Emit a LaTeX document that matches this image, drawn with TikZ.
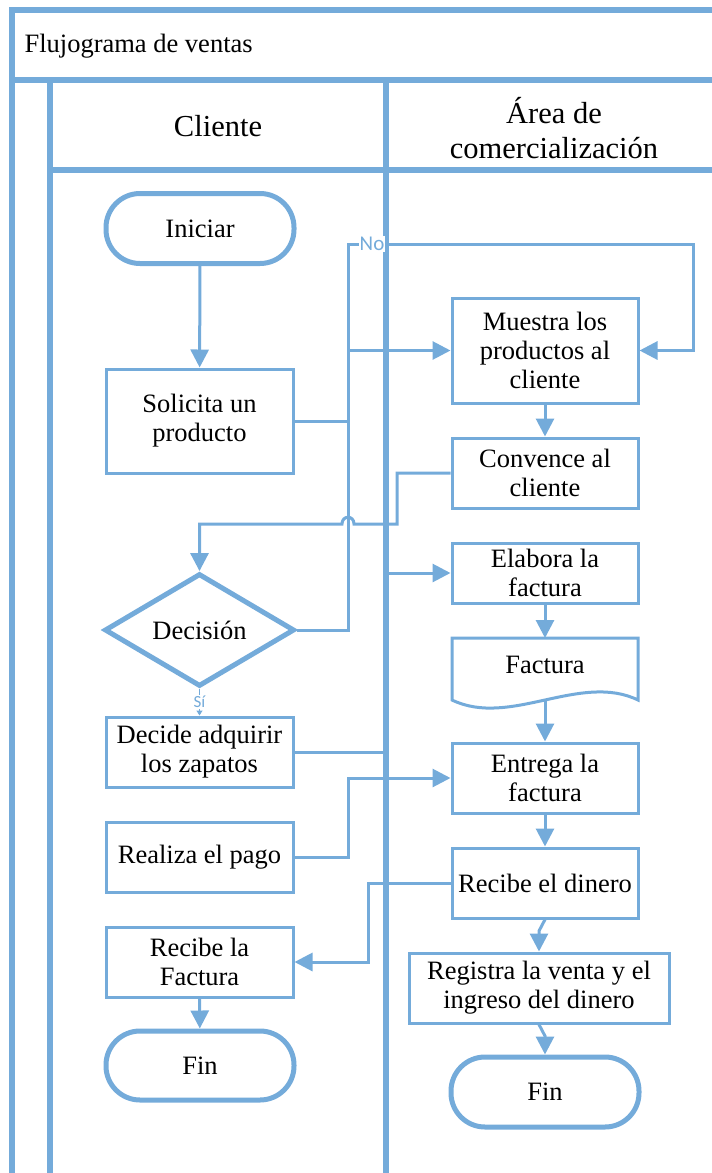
\documentclass[tikz,border=0pt]{standalone}
\usepackage{fontspec}
\setmainfont{Liberation Serif}
\newfontfamily\lblfont{Carlito}
\usetikzlibrary{arrows.meta,shapes.geometric}
\definecolor{lb}{RGB}{116,171,218}
\newcommand\nfnt{\fontsize{26.5}{29}\selectfont}
\begin{document}
\begin{tikzpicture}[x=1pt,y=-1pt,
  frame/.style={draw=lb, line width=6pt},
  proc/.style={draw=lb, line width=3pt, fill=white, minimum width=187pt,
    minimum height=70pt, inner sep=2pt, align=center, font=\nfnt},
  term/.style={proc, line width=5pt, rounded corners=34pt, minimum width=188pt},
  arr/.style={draw=lb, line width=3pt, -{Triangle[length=18pt,width=18pt]}},
  lbl/.style={fill=white, inner sep=1pt, text=lb, font=\lblfont\fontsize{21}{23}\selectfont}]
\useasboundingbox (0,0) rectangle (712,1173);

% swimlane frame
\draw[frame] (712,10) -- (12,10) -- (12,1173);
\draw[frame] (12,80) -- (712,80);
\draw[frame] (50,80) -- (50,1173);
\draw[frame] (386,80) -- (386,1173);
\draw[frame] (50,170) -- (712,170);

% titles
\node[anchor=west, font=\fontsize{26.5}{29}\selectfont] (title) at (21,46) {Flujograma de ventas};
\node[font=\fontsize{30.5}{35}\selectfont] (hcli) at (218,126) {Cliente};
\node[font=\fontsize{30.5}{35}\selectfont, align=center] (hcom) at (554,128) {Área de\\comercialización};

% Cliente lane
\node[term, minimum height=70pt] (ini) at (200,228.5) {Iniciar};
\node[proc, minimum height=104pt] (sol) at (199.5,421) {Solicita un\\producto};
\node[draw=lb, line width=5pt, fill=white, shape=diamond, minimum width=190pt,
      minimum height=104pt, inner sep=0pt, font=\nfnt] (dec) at (199.5,630) {Decisión};
\node[proc] (dz) at (199.5,752) {Decide adquirir\\los zapatos};
\node[proc] (pago) at (199.5,857) {Realiza el pago};
\node[proc] (rfac) at (199.5,962) {Recibe la\\Factura};
\node[term, minimum height=69pt] (fin1) at (200,1065.5) {Fin};

% Área de comercialización lane
\node[proc, minimum width=186pt, minimum height=105pt] (mue) at (545,350.5) {Muestra los\\productos al\\cliente};
\node[proc, minimum width=186pt] (conv) at (545,473) {Convence al\\cliente};
\node[proc, minimum width=186pt, minimum height=60pt] (elab) at (545,573) {Elabora la\\factura};
\node[minimum width=186pt, minimum height=62pt, inner sep=0pt, outer sep=0pt] (fact) at (545,669) {};
\draw[draw=lb, line width=3pt, fill=white] (fact.north west) -- (fact.north east) -- (fact.south east)
  .. controls (580,672) and (510,728) .. (fact.south west) -- cycle;
\node[font=\nfnt] (facttxt) at (545,665) {Factura};
\node[proc, minimum width=186pt] (ent) at (545,778) {Entrega la\\factura};
\node[proc, minimum width=186pt] (rdin) at (545,883) {Recibe el dinero};
\node[proc, minimum width=260pt] (reg) at (539,988) {Registra la venta y el\\ingreso del dinero};
\node[term, minimum height=70pt] (fin2) at (545,1092) {Fin};

% routing points
\coordinate (nl) at (348,244);
\coordinate (nr) at (693,244);
\coordinate (cv) at (397,524);
\coordinate (jr) at (354,524);
\coordinate (jl) at (342,524);
\coordinate (dv) at (386,600);
\coordinate (rv) at (368,900);
\coordinate (b1) at (539,931);
\coordinate (b2) at (545,1036);

% connectors
\draw[arr] (ini) -- (sol);
\draw[arr] (sol.east) -| (mue.west -| nl) -- (mue.west);
\draw[arr] (dec.east) -| (nl) -- (nr) |- (mue.east);
\draw[arr] (mue) -- (conv);
\draw[arr] (conv.west) -- (conv.west -| cv) -- (cv) -- (jr)
  .. controls +(0,-9) and +(0,-9) .. (jl) -- (jl -| dec.north) -- (dec.north);
\draw[draw=lb, line width=1.5pt, -{Triangle[length=5pt,width=6pt]}] (dec.south) --
  node[lbl, font=\lblfont\fontsize{17}{19}\selectfont] (si) {Sí} (dz.north);
\draw[arr] (dz.east) -| (elab.west -| dv) -- (elab.west);
\draw[arr] (elab) -- (fact.north);
\draw[arr] (fact.south) -- (ent.north);
\draw[arr] (pago.east) -| (ent.west -| nl) -- (ent.west);
\draw[arr] (ent) -- (rdin);
\draw[arr] (rdin.west) -| (rfac.east -| rv) -- (rfac.east);
\draw[arr] (rdin.south) -- (b1) -- (reg.north);
\draw[arr] (reg.south) -- (b2) -- (fin2.north);
\draw[arr] (rfac) -- (fin1);

\node[lbl] (nolbl) at (372,244) {No};
\end{tikzpicture}
\end{document}
